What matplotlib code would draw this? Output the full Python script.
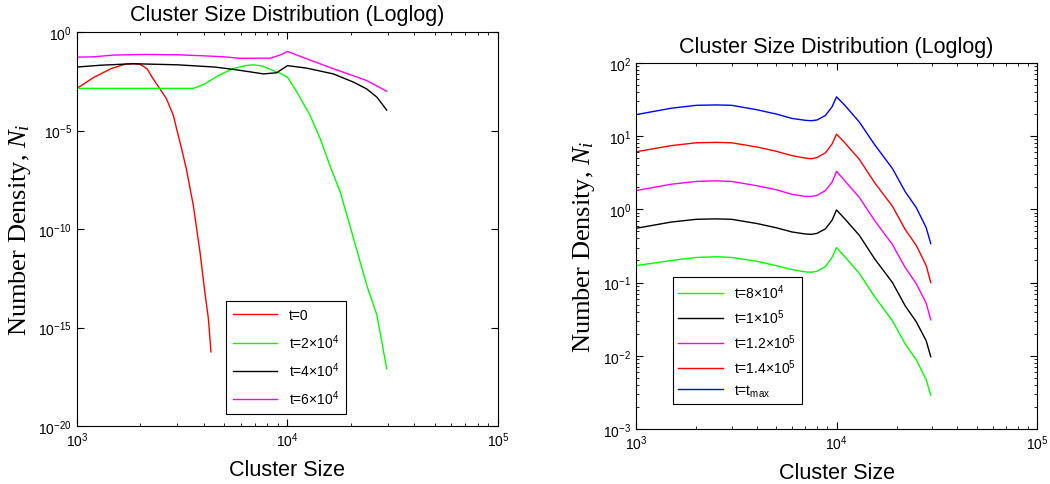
import numpy as np
import matplotlib
matplotlib.use("Agg")
import matplotlib.pyplot as plt
from matplotlib.ticker import NullLocator, FixedLocator

plt.rcParams["font.family"] = ["Liberation Sans", "DejaVu Sans"]
plt.rcParams["mathtext.fontset"] = "custom"
plt.rcParams["mathtext.rm"] = "Liberation Serif"
plt.rcParams["mathtext.it"] = "Liberation Serif:italic"

# --- left panel data (early times) ---
x_t0 = [1000, 1200, 1450, 1700, 1850, 2000, 2150, 2300, 2480, 2660, 2870, 2970,
        3140, 3310, 3570, 3840, 4050, 4210, 4330]
n_t0 = [1.4e-3, 5e-3, 1.4e-2, 2.4e-2, 2.5e-2, 2.3e-2, 1.4e-2, 4.3e-3, 1.3e-3, 4.2e-4,
        5.9e-5, 1.3e-5, 1.2e-6, 1.1e-7, 1.6e-9, 6.8e-12, 6.3e-14, 2.8e-15, 5.8e-17]

x_t2e4 = [1000, 2000, 3000, 3570, 4000, 4700, 5500, 6300, 6900, 7600, 8600, 9300,
          10000, 11100, 12800, 14300, 15900, 17800, 19800, 21700, 23800, 26600, 29600]
n_t2e4 = [1.4e-3, 1.4e-3, 1.4e-3, 1.4e-3, 2.2e-3, 6.3e-3, 1.4e-2, 2.0e-2, 2.2e-2, 1.9e-2,
          1.1e-2, 7.9e-3, 5.2e-3, 8.9e-4, 5.9e-5, 3.9e-6, 1.7e-7, 7.6e-9, 1.5e-10,
          4.6e-12, 1.4e-13, 4.2e-15, 8.1e-18]

x_t4e4 = [1000, 1300, 1850, 3000, 4500, 5500, 6500, 7700, 8900, 9400, 10000, 12300,
          16500, 20600, 23800, 26600, 29600]
n_t4e4 = [1.7e-2, 2.1e-2, 2.5e-2, 2.2e-2, 1.7e-2, 1.3e-2, 1.0e-2, 7.6e-3, 8.7e-3, 1.3e-2,
          2.0e-2, 1.5e-2, 7.6e-3, 2.9e-3, 1.3e-3, 5.0e-4, 1.1e-4]

x_t6e4 = [1000, 1200, 1500, 2100, 3000, 4000, 5000, 6000, 8300, 9300, 10000, 12300,
          16500, 23800, 29600]
n_t6e4 = [5.4e-2, 5.6e-2, 6.9e-2, 7.4e-2, 7.1e-2, 6.3e-2, 5.6e-2, 4.7e-2, 4.8e-2, 7.1e-2,
          1.05e-1, 4.5e-2, 1.4e-2, 3.5e-3, 1.0e-3]

# --- right panel data (late times) ---
x_late = [1000, 1500, 2000, 2500, 3000, 4000, 5000, 6000, 7000, 7500, 8000, 8800,
          9500, 10000, 11000, 13000, 15500, 19000, 22000, 25000, 28000, 29500]
n_t8e4 = [0.17, 0.20, 0.22, 0.225, 0.22, 0.195, 0.17, 0.15, 0.14, 0.138, 0.143, 0.165,
          0.22, 0.30, 0.225, 0.133, 0.064, 0.030, 0.0145, 0.0088, 0.0047, 0.0029]
n_t1e5 = [0.55, 0.67, 0.73, 0.74, 0.73, 0.64, 0.56, 0.49, 0.46, 0.455, 0.47, 0.54,
          0.71, 0.98, 0.74, 0.44, 0.21, 0.10, 0.048, 0.029, 0.016, 0.0097]
n_t12e5 = [1.8, 2.2, 2.4, 2.45, 2.4, 2.1, 1.85, 1.6, 1.5, 1.5, 1.55, 1.8,
           2.35, 3.3, 2.45, 1.45, 0.70, 0.33, 0.16, 0.096, 0.052, 0.031]
n_t14e5 = [6.1, 7.4, 8.1, 8.2, 8.1, 7.1, 6.2, 5.4, 5.0, 4.9, 5.1, 5.9,
           7.8, 10.6, 8.1, 4.8, 2.3, 1.1, 0.53, 0.32, 0.17, 0.10]
n_tmax = [19.6, 24, 26.3, 26.6, 26.3, 22.9, 20.0, 17.4, 16.4, 16.2, 16.6, 19.1,
          25.1, 34.3, 26.3, 15.5, 7.6, 3.6, 1.74, 1.05, 0.56, 0.34]

left_labels = ["t=0", "t=2\u00d710$\\mathregular{^4}$", "t=4\u00d710$\\mathregular{^4}$",
               "t=6\u00d710$\\mathregular{^4}$"]
right_labels = ["t=8\u00d710$\\mathregular{^4}$", "t=1\u00d710$\\mathregular{^5}$",
                "t=1.2\u00d710$\\mathregular{^5}$", "t=1.4\u00d710$\\mathregular{^5}$",
                "t=t$\\mathregular{_{max}}$"]

GREEN = (0, 1, 0)
MAGENTA = (1, 0, 1)


def style_axes(ax, title_pad):
    ax.tick_params(which="both", direction="in", top=True, right=True, labelsize=10)
    ax.tick_params(which="major", length=5)
    ax.tick_params(which="minor", length=2.5)
    ax.set_xlim(1e3, 1e5)
    ax.set_title("Cluster Size Distribution (Loglog)", fontsize=15.5, pad=title_pad)
    ax.set_xlabel("Cluster Size", fontsize=15.5, labelpad=7)
    ax.set_ylabel(r"Number Density, $N_i$", fontsize=19, family="Liberation Serif")


fig = plt.figure(figsize=(10.5, 4.85), dpi=100)

ax1 = fig.add_axes([0.0733, 0.1196, 0.401, 0.812])
ax1.loglog(x_t0, n_t0, color="r", lw=1, label=left_labels[0])
ax1.loglog(x_t2e4, n_t2e4, color=GREEN, lw=1, label=left_labels[1])
ax1.loglog(x_t4e4, n_t4e4, color="k", lw=1, label=left_labels[2])
ax1.loglog(x_t6e4, n_t6e4, color=MAGENTA, lw=1, label=left_labels[3])
ax1.set_ylim(1e-20, 1e0)
ax1.yaxis.set_major_locator(FixedLocator([1e-20, 1e-15, 1e-10, 1e-5, 1e0]))
ax1.yaxis.set_minor_locator(NullLocator())
style_axes(ax1, 9)
leg1 = ax1.legend(loc="lower left", bbox_to_anchor=(0.354, 0.03), fontsize=10,
                  handlelength=3.2, fancybox=False, edgecolor="k", framealpha=1,
                  borderpad=0.5, labelspacing=0.7, borderaxespad=0)
leg1.get_frame().set_linewidth(0.8)

ax2 = fig.add_axes([0.6057, 0.1134, 0.382, 0.755])
ax2.loglog(x_late, n_t8e4, color=GREEN, lw=1, label=right_labels[0])
ax2.loglog(x_late, n_t1e5, color="k", lw=1, label=right_labels[1])
ax2.loglog(x_late, n_t12e5, color=MAGENTA, lw=1, label=right_labels[2])
ax2.loglog(x_late, n_t14e5, color="r", lw=1, label=right_labels[3])
ax2.loglog(x_late, n_tmax, color="b", lw=1, label=right_labels[4])
ax2.set_ylim(1e-3, 1e2)
style_axes(ax2, 7.5)
leg2 = ax2.legend(loc="lower left", bbox_to_anchor=(0.092, 0.068), fontsize=10,
                  handlelength=3.2, fancybox=False, edgecolor="k", framealpha=1,
                  borderpad=0.4, labelspacing=0.45, borderaxespad=0)
leg2.get_frame().set_linewidth(0.8)

fig.savefig("out.png", dpi=100)
